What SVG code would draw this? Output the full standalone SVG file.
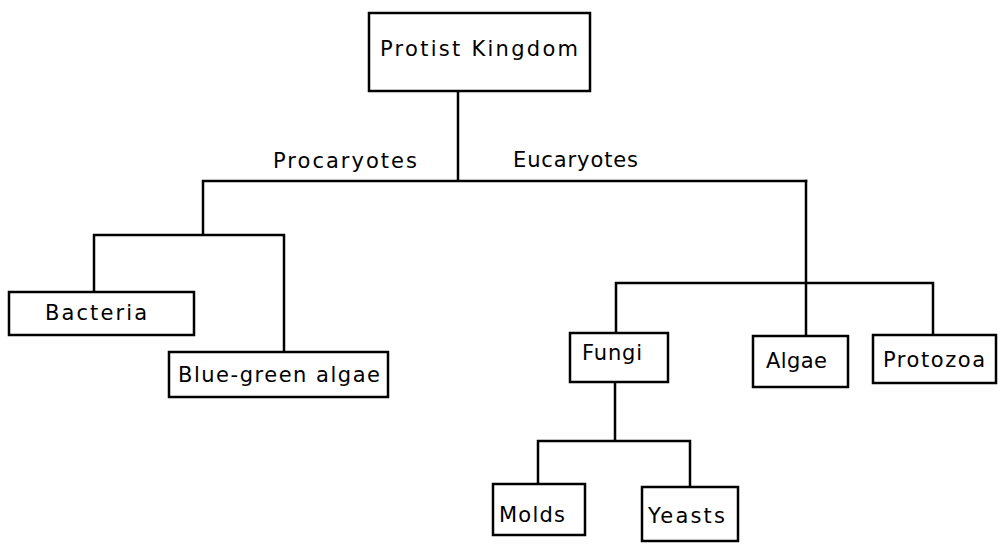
<svg xmlns="http://www.w3.org/2000/svg" width="1000" height="545" viewBox="0 0 1000 545">
<style>
.box{fill:#fff;stroke:#000;stroke-width:2.5}
.ln{fill:none;stroke:#000;stroke-width:2.5;stroke-linecap:square}
text{font-family:"DejaVu Sans","Liberation Sans",sans-serif;font-size:21px;fill:#000}
</style>
<rect width="1000" height="545" fill="#fff"/>
<g id="connectors">
<path class="ln" d="M458,91 V181 M203,181 H806 M203,181 V235 M94,235 H284 M94,235 V292 M284,235 V352"/>
<path class="ln" d="M806,181 V336 M616,283 H933 M616,283 V333 M933,283 V335"/>
<path class="ln" d="M615,382 V441 M538,441 H690 M538,441 V484 M690,441 V487"/>
</g>
<g id="labels">
<text x="273" y="168" textLength="144" lengthAdjust="spacing">Procaryotes</text>
<text x="513" y="167" textLength="125" lengthAdjust="spacing">Eucaryotes</text>
</g>
<g id="protist">
<rect class="box" x="369" y="13" width="221" height="78"/>
<text x="380" y="56" textLength="198" lengthAdjust="spacing">Protist Kingdom</text>
</g>
<g id="bacteria">
<rect class="box" x="9" y="292" width="185" height="43"/>
<text x="45" y="320" textLength="102" lengthAdjust="spacing">Bacteria</text>
</g>
<g id="bluegreen">
<rect class="box" x="169" y="352" width="219" height="45"/>
<text x="178" y="382" textLength="202" lengthAdjust="spacing">Blue-green algae</text>
</g>
<g id="fungi">
<rect class="box" x="570" y="333" width="98" height="49"/>
<text x="582" y="360" textLength="60" lengthAdjust="spacing">Fungi</text>
</g>
<g id="algae">
<rect class="box" x="753" y="336" width="95" height="51"/>
<text x="766" y="368" textLength="61" lengthAdjust="spacing">Algae</text>
</g>
<g id="protozoa">
<rect class="box" x="873" y="335" width="123" height="48"/>
<text x="883" y="367" textLength="102" lengthAdjust="spacing">Protozoa</text>
</g>
<g id="molds">
<rect class="box" x="493" y="484" width="92" height="51"/>
<text x="499" y="522" textLength="66" lengthAdjust="spacing">Molds</text>
</g>
<g id="yeasts">
<rect class="box" x="642" y="487" width="96" height="54"/>
<text x="648" y="523" textLength="77" lengthAdjust="spacing">Yeasts</text>
</g>
</svg>
